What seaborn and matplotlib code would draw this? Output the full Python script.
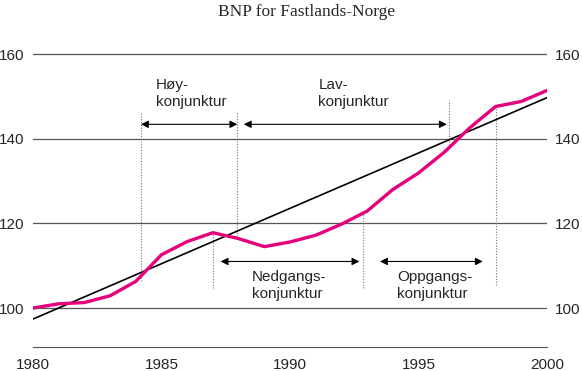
import matplotlib
matplotlib.use("Agg")
import matplotlib.pyplot as plt
import seaborn as sns
import pandas as pd

# BNP for Fastlands-Norge, indeks 1980 = 100
aar = list(range(1980, 2001))
bnp = [100.0, 101.0, 101.3, 102.9, 106.3, 112.6, 115.7, 117.8, 116.4, 114.5,
       115.6, 117.2, 119.8, 122.9, 128.0, 131.9, 136.8, 142.6, 147.6, 148.8, 151.4]
trend_aar = [1980, 2000]
trend = [97.4, 149.7]

# stiplede skillelinjer: (år, fra, til)
skiller = [(1984.2, 106.5, 146.2), (1987.95, 116.2, 146.2), (1996.2, 138.5, 149.2),
           (1987.0, 104.7, 117.8), (1992.85, 104.7, 122.5), (1998.0, 105.4, 147.6)]
# piler: (fra år, til år, nivå)
piler = [(1984.2, 1987.95, 143.4), (1988.2, 1996.1, 143.4),
         (1987.3, 1992.7, 111.0), (1993.5, 1997.5, 111.0)]
# tekster: (år, nivå, tekst)
tekster = [(1984.77, 150.7, "Høy-\nkonjunktur"), (1991.1, 150.7, "Lav-\nkonjunktur"),
           (1988.52, 105.4, "Nedgangs-\nkonjunktur"), (1994.17, 105.4, "Oppgangs-\nkonjunktur")]

sns.set_style("white")
plt.rcParams['font.family'] = ['Liberation Sans', 'DejaVu Sans']

df = pd.DataFrame({"aar": aar, "bnp": bnp})
df_trend = pd.DataFrame({"aar": trend_aar, "trend": trend})

fig = plt.figure(figsize=(5.82, 3.71), dpi=100)
ax = fig.add_axes([0.0567, 0.0647, 0.8832, 0.7954])

for y in [100, 120, 140, 160]:
    ax.axhline(y, color="#555555", lw=0.9, zorder=1)

for x, y0, y1 in skiller:
    ax.plot([x, x], [y0, y1], color="#777777", lw=0.8, ls=(0, (1, 1.5)), zorder=2)

sns.lineplot(data=df_trend, x="aar", y="trend", color="black", lw=1.2, ax=ax, zorder=3)
sns.lineplot(data=df, x="aar", y="bnp", color="#e5007d", lw=2.4, ax=ax, zorder=4)

for x0, x1, y in piler:
    ax.annotate("", xy=(x1, y), xytext=(x0, y),
                arrowprops=dict(arrowstyle="<|-|>", color="black", lw=0.8,
                                mutation_scale=11, shrinkA=0, shrinkB=0))

for x, y, t in tekster:
    ax.text(x, y, t, fontsize=11, ha="left", va="center", linespacing=1.3)

ax.set_xlim(1980, 2000)
ax.set_ylim(90.8, 160.5)
ax.set_xticks(range(1980, 2001))
ax.set_xticklabels([str(a) if a % 5 == 0 else "" for a in range(1980, 2001)])
ax.set_yticks([100, 120, 140, 160])
ax.tick_params(axis="x", length=5, width=0.8, color="#555555", labelsize=11, pad=3)
ax.tick_params(axis="y", length=0, labelsize=11, labelleft=True, labelright=True, pad=6)
ax.set_xlabel("")
ax.set_ylabel("")
for s in ["top", "left", "right"]:
    ax.spines[s].set_visible(False)
ax.spines["bottom"].set_color("#555555")
ax.spines["bottom"].set_linewidth(0.8)

fig.text(0.526, 0.968, "BNP for Fastlands-Norge", ha="center", va="center",
         fontsize=12.5, family=["Liberation Serif", "DejaVu Serif"])

fig.savefig("out.png", dpi=100)
